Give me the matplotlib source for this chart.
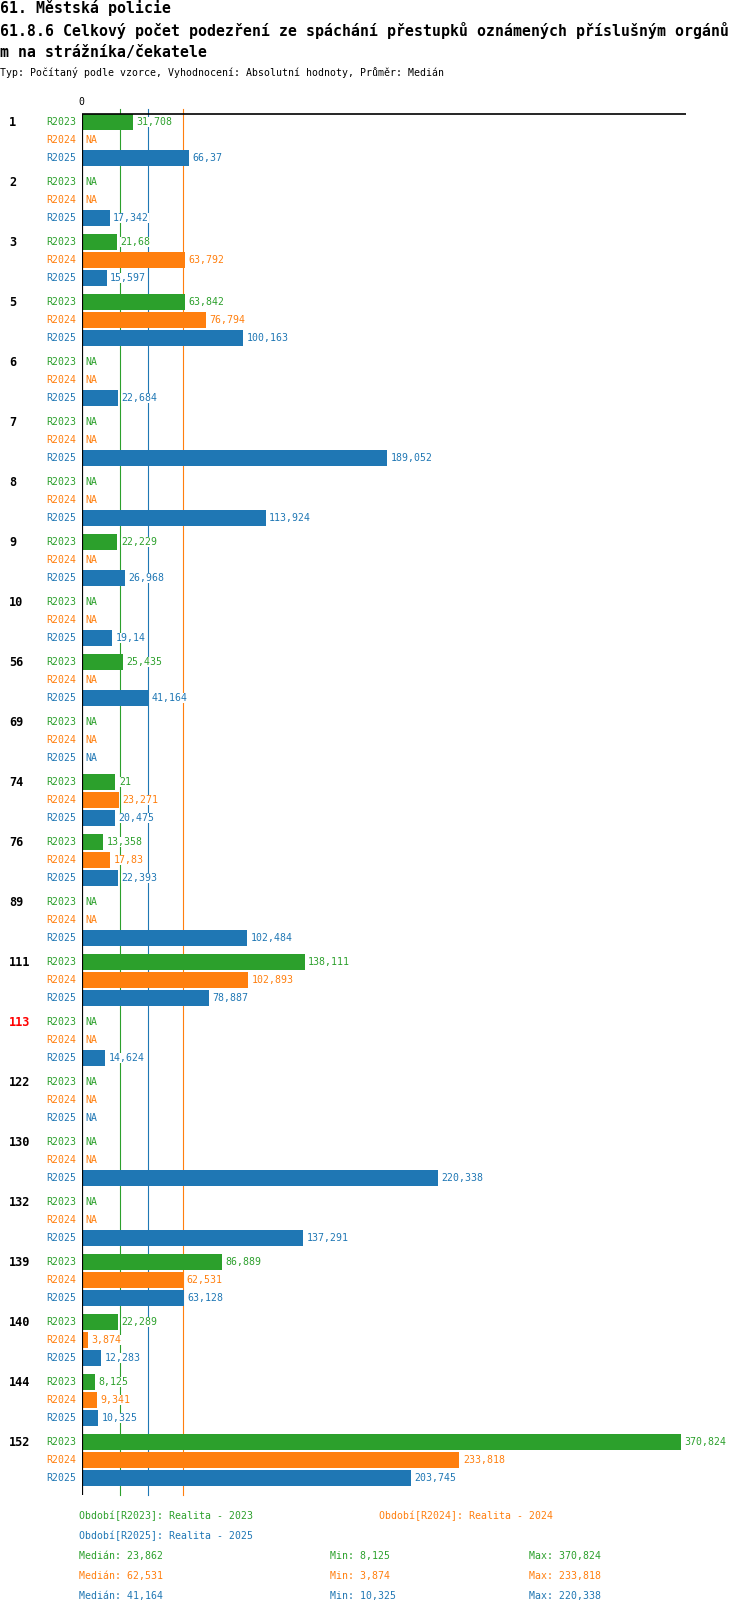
import numpy as np
import matplotlib
matplotlib.use('Agg')
import matplotlib.pyplot as plt

# data (NA = None)
groups = ['1', '2', '3', '5', '6', '7', '8', '9', '10', '56', '69', '74', '76',
          '89', '111', '113', '122', '130', '132', '139', '140', '144', '152']
highlight = ['113']
periods = ['R2023', 'R2024', 'R2025']
period_names = ['Realita - 2023', 'Realita - 2024', 'Realita - 2025']
colors = ['#2ca02c', '#ff7f0e', '#1f77b4']

r2023 = [31.708, None, 21.68, 63.842, None, None, None, 22.229, None, 25.435, None, 21,
         13.358, None, 138.111, None, None, None, None, 86.889, 22.289, 8.125, 370.824]
r2024 = [None, None, 63.792, 76.794, None, None, None, None, None, None, None, 23.271,
         17.83, None, 102.893, None, None, None, None, 62.531, 3.874, 9.341, 233.818]
r2025 = [66.37, 17.342, 15.597, 100.163, 22.684, 189.052, 113.924, 26.968, 19.14, 41.164,
         None, 20.475, 22.393, 102.484, 78.887, 14.624, None, 220.338, 137.291, 63.128,
         12.283, 10.325, 203.745]
series = [r2023, r2024, r2025]

title1 = '61. Městská policie'
title2 = '61.8.6 Celkový počet podezření ze spáchání přestupků oznámených příslušným orgánů'
title3 = 'm na strážníka/čekatele'
subtitle = 'Typ: Počítaný podle vzorce, Vyhodnocení: Absolutní hodnoty, Průměr: Medián'


def fmt(v):
    return f'{round(v, 3):g}'.replace('.', ',')


W, H = 750, 1614
x0 = 81.5          # pixel of zero
scale = 1.616      # pixels per unit
fig = plt.figure(figsize=(W / 100, H / 100), dpi=100)
ax = fig.add_axes([x0 / W, 0, 1 - x0 / W, 1])
ax.set_xlim(0, (W - x0) / scale)
ax.set_ylim(H, 0)
ax.axis('off')

mono = 'DejaVu Sans Mono'
fs = 7.1


def px(xp):
    return (xp - x0) / scale


row_h = 18
grp_h = 60
y_top = 122

for g, name in enumerate(groups):
    yc = y_top + g * grp_h
    ax.text(px(9), yc, name, ha='left', va='center', family=mono, fontsize=8.6,
            fontweight='bold', color='red' if name in highlight else 'black')
    for r, (vals, col, per) in enumerate(zip(series, colors, periods)):
        y = yc + r * row_h
        ax.text(px(76.5), y, per, ha='right', va='center', family=mono, fontsize=fs, color=col)
        v = vals[g]
        if v is None:
            ax.text(px(x0 + 3.5), y, 'NA', ha='left', va='center', family=mono, fontsize=fs,
                    color=col, zorder=4)
        else:
            ax.barh(y, v, height=16, left=0, color=col, zorder=3)
            ax.text(v + px(x0 + 3.5), y, fmt(v), ha='left', va='center', family=mono,
                    fontsize=fs, color=col, zorder=4,
                    bbox=dict(facecolor='white', edgecolor='none', pad=0.3))

y_axis_top = 114
y_axis_bot = 1495

# median lines
medians = []
for vals, col in zip(series, colors):
    arr = np.array([v for v in vals if v is not None])
    m = np.median(arr)
    medians.append(m)
    ax.plot([m, m], [109, y_axis_bot], color=col, lw=0.8, zorder=1)

# axes lines
ax.plot([0, 0], [y_axis_top, y_axis_bot], color='black', lw=1.6, zorder=5, solid_capstyle='butt')
ax.plot([0, px(686)], [y_axis_top, y_axis_top], color='black', lw=1.2, zorder=5, solid_capstyle='butt')
ax.text(0, 102, '0', ha='center', va='center', family=mono, fontsize=fs)

# titles
for ty, tt in zip([8.5, 30.7, 52.7], [title1, title2, title3]):
    fig.text(0, 1 - ty / H, tt, ha='left', va='center', family=mono, fontsize=10.7,
             fontweight='bold')
fig.text(0, 1 - 73 / H, subtitle, ha='left', va='center', family=mono, fontsize=fs)

# legend
leg_pos = [(79, 1516), (379, 1516), (79, 1536)]
for (lx, ly), per, pn, col in zip(leg_pos, periods, period_names, colors):
    fig.text(lx / W, 1 - ly / H, f'Období[{per}]: {pn}', ha='left', va='center',
             family=mono, fontsize=fs, color=col)

for i, (vals, col) in enumerate(zip(series, colors)):
    arr = np.array([v for v in vals if v is not None])
    ly = 1 - (1556 + 20 * i) / H
    fig.text(79 / W, ly, f'Medián: {fmt(medians[i])}', ha='left', va='center',
             family=mono, fontsize=fs, color=col)
    fig.text(330 / W, ly, f'Min: {fmt(arr.min())}', ha='left', va='center',
             family=mono, fontsize=fs, color=col)
    fig.text(529 / W, ly, f'Max: {fmt(arr.max())}', ha='left', va='center',
             family=mono, fontsize=fs, color=col)

fig.savefig('out.png', dpi=100)
